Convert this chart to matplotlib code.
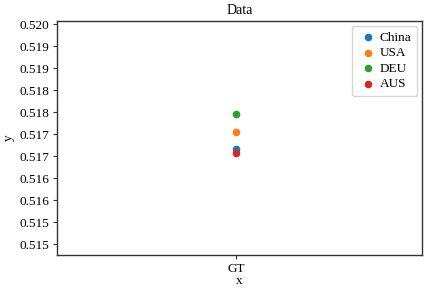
import matplotlib

matplotlib.use("Agg")
import matplotlib.pyplot as plt

plt.rcParams["font.family"] = ["Liberation Serif", "DejaVu Serif"]

# ---------------------------------------------------------------------------
# Data
# ---------------------------------------------------------------------------
categories = ["GT"]
countries = ["China", "USA", "DEU", "AUS"]
values = [0.51717, 0.51754, 0.51795, 0.51708]
colors = ["#1f77b4", "#ff7f0e", "#2ca02c", "#d62728"]

ytick_values = [0.5150, 0.5155, 0.5160, 0.5165, 0.5170, 0.5175,
                0.5180, 0.5185, 0.5190, 0.5195, 0.5200]
ytick_labels = ["0.515", "0.515", "0.516", "0.516", "0.517", "0.517",
                "0.518", "0.518", "0.519", "0.519", "0.520"]


def main() -> None:
    fig = plt.figure(figsize=(4.25, 2.88), dpi=100)
    ax = fig.add_axes([57 / 425, 1 - 255 / 288, 365 / 425, 234 / 288])

    for name, val, col in zip(countries, values, colors):
        ax.scatter(categories, [val], s=20, color=col, label=name, zorder=3)

    ax.set_xlim(-0.49, 0.51)
    ax.set_ylim(0.51475, 0.52007)
    ax.set_yticks(ytick_values)
    ax.set_yticklabels(ytick_labels)
    ax.tick_params(labelsize=9.5, length=3, width=0.8, color="#333333", pad=2.5)

    for sp in ax.spines.values():
        sp.set_color("#333333")
        sp.set_linewidth(1.0)

    ax.set_title("Data", fontsize=10, pad=5)
    ax.set_xlabel("x", fontsize=9.5, labelpad=0)
    ax.set_ylabel("y", fontsize=9.5, labelpad=3)
    ax.legend(loc="upper right", fontsize=9.5, handletextpad=0.15,
              borderpad=0.45, labelspacing=0.25, handlelength=1.5,
              borderaxespad=0.35)

    fig.savefig("out.png", dpi=100)
    plt.close(fig)


if __name__ == "__main__":
    main()
